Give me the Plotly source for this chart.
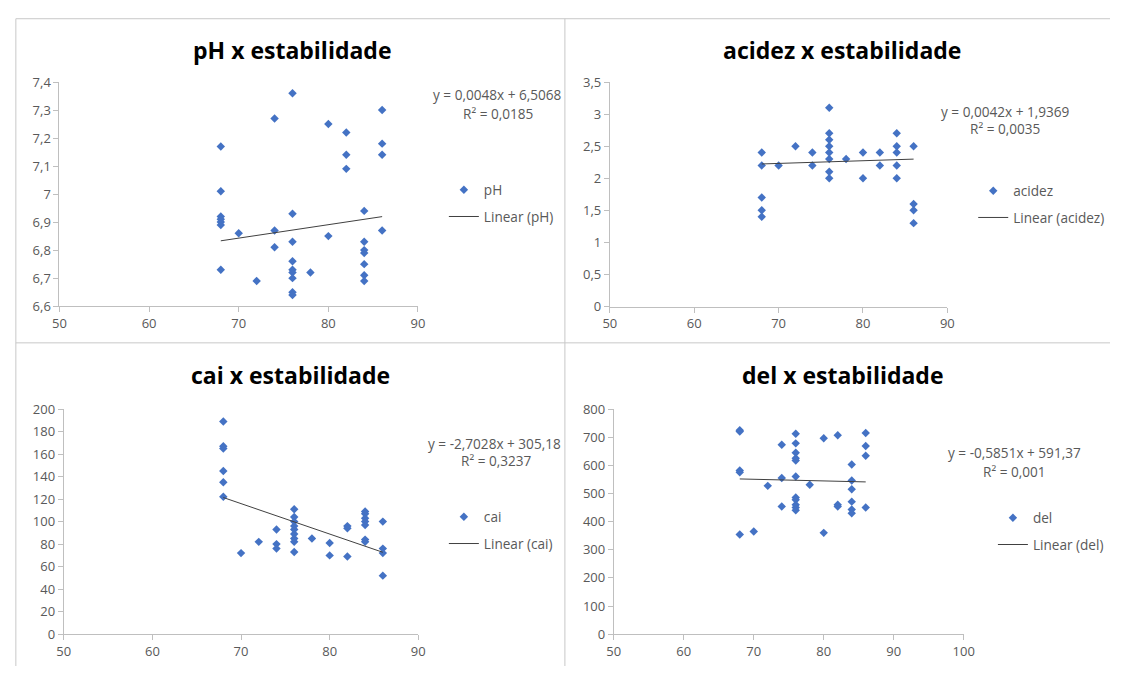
import plotly.graph_objects as go

# ---------------- data ----------------
ph_estab = [68, 68, 68, 68, 68, 68, 68, 70, 72, 74, 74, 74,
            76, 76, 76, 76, 76, 76, 76, 76, 76, 78, 80, 80,
            82, 82, 82, 84, 84, 84, 84, 84, 84, 84, 86, 86, 86, 86]
ph_vals = [7.17, 7.01, 6.92, 6.91, 6.90, 6.89, 6.73, 6.86, 6.69, 7.27, 6.87, 6.81,
           7.36, 6.93, 6.83, 6.76, 6.73, 6.72, 6.70, 6.65, 6.64, 6.72, 7.25, 6.85,
           7.22, 7.14, 7.09, 6.94, 6.83, 6.80, 6.79, 6.75, 6.71, 6.69, 7.30, 7.18, 7.14, 6.87]

acidez_estab = [68, 68, 68, 68, 68, 70, 72, 74, 74,
                76, 76, 76, 76, 76, 76, 76, 76, 78, 80, 80, 82, 82,
                84, 84, 84, 84, 84, 86, 86, 86, 86]
acidez_vals = [2.4, 2.2, 1.7, 1.5, 1.4, 2.2, 2.5, 2.4, 2.2,
               3.1, 2.7, 2.6, 2.5, 2.4, 2.3, 2.1, 2.0, 2.3, 2.4, 2.0, 2.4, 2.2,
               2.7, 2.5, 2.4, 2.2, 2.0, 2.5, 1.6, 1.5, 1.3]

cai_estab = [68, 68, 68, 68, 68, 68, 70, 72, 74, 74, 74,
             76, 76, 76, 76, 76, 76, 76, 76, 76, 78, 80, 80, 82, 82, 82,
             84, 84, 84, 84, 84, 84, 84, 86, 86, 86, 86]
cai_vals = [189, 167, 165, 145, 135, 122, 72, 82, 93, 80, 76,
            111, 104, 100, 96, 93, 89, 85, 82, 73, 85, 81, 70, 96, 94, 69,
            109, 107, 103, 100, 97, 84, 82, 100, 76, 72, 52]

del_estab = [68, 68, 68, 68, 68, 70, 72, 74, 74, 74,
             76, 76, 76, 76, 76, 76, 76, 76, 76, 76, 76, 78, 80, 80, 82, 82, 82,
             84, 84, 84, 84, 84, 84, 86, 86, 86, 86]
del_vals = [725, 720, 582, 575, 354, 365, 527, 673, 555, 454,
            712, 678, 645, 625, 617, 560, 486, 478, 460, 450, 440, 531, 696, 360, 707, 460, 454,
            603, 546, 515, 471, 443, 430, 715, 669, 634, 450]

series_names = ["pH", "acidez", "cai", "del"]
titles = ["pH x estabilidade", "acidez x estabilidade", "cai x estabilidade", "del x estabilidade"]
trend_slopes = [0.0048, 0.0042, -2.7028, -0.5851]
trend_intercepts = [6.5068, 1.9369, 305.18, 591.37]
equation_labels = ["y = 0,0048x + 6,5068", "y = 0,0042x + 1,9369",
                   "y = -2,7028x + 305,18", "y = -0,5851x + 591,37"]
r2_labels = ["R² = 0,0185", "R² = 0,0035", "R² = 0,3237", "R² = 0,001"]
x_ranges = [[50, 90], [50, 90], [50, 90], [50, 100]]
y_ranges = [[6.6, 7.4], [0, 3.5], [0, 200], [0, 800]]
y_dticks = [0.1, 0.5, 20, 100]

xs = [ph_estab, acidez_estab, cai_estab, del_estab]
ys = [ph_vals, acidez_vals, cai_vals, del_vals]

# ---------------- layout (pixel geometry, in window pixels) ----------------
W, H = 1121, 675
BLUE = "#4472C4"
FONT = "Open Sans"
TXT = "#595959"

def fx(p):
    return p / W

def fy(p):
    return 1 - p / H

plot_px = [  # left, right, top, bottom
    (53.3, 417.7, 75.0, 305.3),
    (612.7, 955.7, 75.0, 305.7),
    (57.7, 418.0, 411.0, 642.3),
    (616.7, 972.3, 411.0, 642.3),
]
title_pos = [(290, 42), (849, 42), (288, 376), (850, 376)]
eq_pos = [(498, 88), (1015, 105), (495, 446), (1024, 456)]
r2_pos = [(499, 107), (1014, 123), (497, 464), (1024, 475)]
legend_pos = [(444, 170), (982, 171), (444, 506), (1002, 507)]

fig = go.Figure()
layout_extra = {}
annotations = []
for i in range(4):
    n = "" if i == 0 else str(i + 1)
    lg = "legend" + n
    xa = "x" + n
    ya = "y" + n
    fig.add_trace(go.Scatter(
        x=xs[i], y=ys[i], mode="markers", name=series_names[i],
        marker=dict(symbol="diamond", size=6.5, color=BLUE, line=dict(width=0)),
        xaxis=xa, yaxis=ya, legend=lg, legendgroup=series_names[i] + "a"))
    x0, x1 = min(xs[i]), max(xs[i])
    fig.add_trace(go.Scatter(
        x=[x0, x1],
        y=[trend_slopes[i] * x0 + trend_intercepts[i], trend_slopes[i] * x1 + trend_intercepts[i]],
        mode="lines", name="Linear (" + series_names[i] + ")",
        line=dict(color="#404040", width=1),
        xaxis=xa, yaxis=ya, legend=lg, legendgroup=series_names[i] + "b"))

    l, r, t, b = plot_px[i]
    axis_common = dict(showgrid=False, zeroline=False, showline=True, linecolor="#bfbfbf",
                       linewidth=1, ticks="outside", ticklen=5, tickcolor="#bfbfbf",
                       tickfont=dict(family=FONT, size=13, color=TXT), fixedrange=True)
    layout_extra["xaxis" + n] = dict(domain=[fx(l), fx(r)], range=x_ranges[i], dtick=10,
                                     tick0=0, anchor=ya, **axis_common)
    layout_extra["yaxis" + n] = dict(domain=[fy(b), fy(t)], range=y_ranges[i], dtick=y_dticks[i],
                                     tick0=0, anchor=xa, **axis_common)
    lx, ly = legend_pos[i]
    layout_extra[lg] = dict(x=fx(lx), y=fy(ly), xanchor="left", yanchor="top",
                            bgcolor="rgba(0,0,0,0)", font=dict(family=FONT, size=13.6, color=TXT),
                            tracegroupgap=6, traceorder="grouped", itemclick=False,
                            itemdoubleclick=False)
    tx, ty = title_pos[i]
    annotations.append(dict(text="<b>" + titles[i] + "</b>", x=fx(tx), y=fy(ty), xref="paper",
                            yref="paper", showarrow=False, xanchor="center", yanchor="middle",
                            font=dict(family=FONT, size=23, color="#000000")))
    ex, ey = eq_pos[i]
    annotations.append(dict(text=equation_labels[i], x=fx(ex), y=fy(ey), xref="paper",
                            yref="paper", showarrow=False, xanchor="center", yanchor="middle",
                            font=dict(family=FONT, size=13.6, color=TXT)))
    rx, ry = r2_pos[i]
    annotations.append(dict(text=r2_labels[i], x=fx(rx), y=fy(ry), xref="paper",
                            yref="paper", showarrow=False, xanchor="center", yanchor="middle",
                            font=dict(family=FONT, size=13.6, color=TXT)))

border = "#c8c8c8"
shapes = [
    dict(type="line", xref="paper", yref="paper", x0=fx(9), x1=1, y0=fy(10), y1=fy(10),
         line=dict(color=border, width=1)),
    dict(type="line", xref="paper", yref="paper", x0=fx(9), x1=fx(9), y0=fy(10), y1=0,
         line=dict(color=border, width=1)),
    dict(type="line", xref="paper", yref="paper", x0=fx(567), x1=fx(567), y0=fy(10), y1=0,
         line=dict(color=border, width=1)),
    dict(type="line", xref="paper", yref="paper", x0=fx(9), x1=1, y0=fy(343), y1=fy(343),
         line=dict(color=border, width=1)),
]

fig.update_layout(
    width=W, height=H, margin=dict(l=0, r=0, t=0, b=0),
    paper_bgcolor="white", plot_bgcolor="white",
    separators=",.", showlegend=True,
    annotations=annotations, shapes=shapes,
    **layout_extra)

fig.write_html("out.html", config={"displayModeBar": False},
               post_script="document.body.style.margin='0';document.body.style.overflow='hidden';")
